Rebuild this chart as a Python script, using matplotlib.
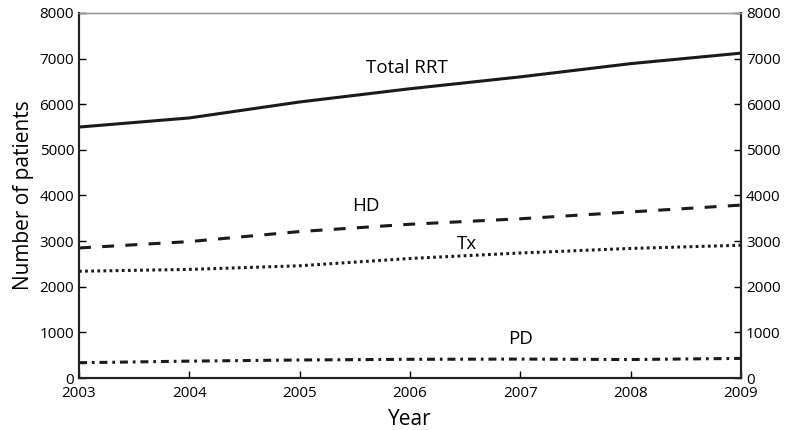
import numpy as np
import matplotlib.pyplot as plt

plt.rcParams['font.family'] = ['Open Sans', 'DejaVu Sans']

years = [2003, 2004, 2005, 2006, 2007, 2008, 2009]
total_rrt = [5500, 5700, 6050, 6340, 6600, 6890, 7120]
hd = [2850, 2990, 3210, 3370, 3490, 3640, 3790]
tx = [2340, 2380, 2460, 2620, 2740, 2840, 2910]
pd = [335, 370, 395, 410, 415, 405, 430]

fig = plt.figure(figsize=(7.87, 4.30), dpi=100)
ax = fig.add_axes([0.1004, 0.1209, 0.8412, 0.8489])

ax.plot(years, total_rrt, color='#1a1a1a', lw=2.2, ls='-')
ax.plot(years, hd, color='#1a1a1a', lw=2.2, ls=(0, (3.9, 3.7)))
ax.plot(years, tx, color='#1a1a1a', lw=2.2, ls=(0, (0.9, 1.1)))
ax.plot(years, pd, color='#1a1a1a', lw=2.2, ls=(0, (2.6, 1.6, 0.9, 1.6)))

ax.text(2005.97, 6800, 'Total RRT', fontsize=13.5, ha='center', va='center')
ax.text(2005.60, 3770, 'HD', fontsize=13.5, ha='center', va='center')
ax.text(2006.52, 2940, 'Tx', fontsize=13.5, ha='center', va='center')
ax.text(2007.0, 855, 'PD', fontsize=13.5, ha='center', va='center')

ax.set_xlim(2003, 2009)
ax.set_ylim(0, 8000)
ax.set_xticks(years)
ax.set_yticks(np.arange(0, 8001, 1000))
ax.tick_params(direction='in', labelsize=11, length=5, width=1)
ax.tick_params(axis='x', pad=6)
ax.set_xlabel('Year', fontsize=15)
ax.xaxis.set_label_coords(0.5, -0.085)
ax.set_ylabel('Number of patients', fontsize=15, labelpad=4)

ax2 = ax.twinx()
ax2.set_ylim(0, 8000)
ax2.set_yticks(np.arange(0, 8001, 1000))
ax2.tick_params(direction='in', labelsize=11, length=5, width=1)

for a in (ax, ax2):
    for s in ('left', 'right', 'bottom'):
        a.spines[s].set_linewidth(1.5)
        a.spines[s].set_color('#222222')
    a.spines['top'].set_linewidth(1)
    a.spines['top'].set_color('#999999')

fig.savefig('out.png', dpi=100)
